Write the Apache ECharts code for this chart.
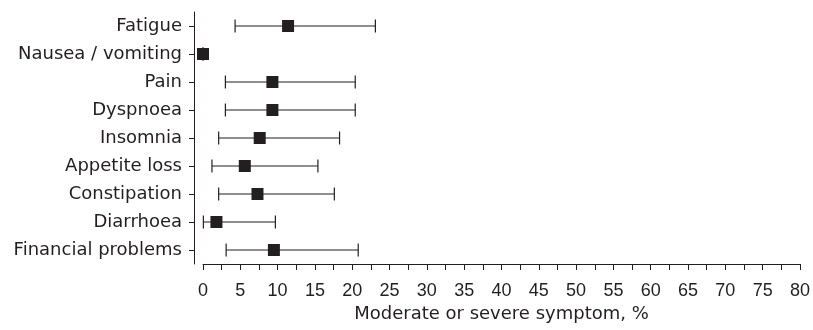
<!DOCTYPE html>
<html>
<head>
<meta charset="utf-8">
<script src="https://cdn.jsdelivr.net/npm/echarts@6/dist/echarts.min.js"></script>
<style>html,body{margin:0;padding:0;background:#fff;}#c{width:813px;height:330px;}</style>
</head>
<body>
<div id="c"></div>
<script>
var categories = ["Fatigue", "Nausea / vomiting", "Pain", "Dyspnoea", "Insomnia", "Appetite loss", "Constipation", "Diarrhoea", "Financial problems"];
var estimate = [11.4, 0.0, 9.3, 9.3, 7.6, 5.6, 7.3, 1.8, 9.5];
var lower = [4.3, 0.0, 3.0, 3.0, 2.1, 1.2, 2.1, 0.05, 3.1];
var upper = [23.1, 0.0, 20.4, 20.4, 18.3, 15.4, 17.6, 9.7, 20.8];
var xTicks = {min: 0, max: 80, interval: 5};
var xName = "Moderate or severe symptom, %";

var ink = "#231f20";
var fontText = "DejaVu Sans, Verdana, sans-serif";
var fontNum = "Liberation Sans, Arial, Helvetica, sans-serif";
var chart = echarts.init(document.getElementById('c'), null, {renderer: 'canvas'});

var barData = categories.map(function (c, i) { return [lower[i], upper[i], i]; });
var pointData = categories.map(function (c, i) { return [estimate[i], i]; });

chart.setOption({
  animation: false,
  backgroundColor: '#ffffff',
  grid: {left: 203, right: 12, top: 12, bottom: 66, containLabel: false},
  xAxis: {
    type: 'value', min: xTicks.min, max: xTicks.max, interval: xTicks.interval,
    name: xName, nameLocation: 'middle', nameGap: 38,
    nameTextStyle: {fontSize: 18, color: ink, fontFamily: fontText},
    axisLine: {show: true, onZero: false, lineStyle: {color: ink, width: 1}},
    axisTick: {show: true, length: 6, inside: false, lineStyle: {color: ink, width: 1}},
    minorTick: {show: true, splitNumber: 2, length: 6, lineStyle: {color: ink, width: 1}},
    axisLabel: {fontSize: 18, color: ink, fontFamily: fontNum, margin: 18},
    splitLine: {show: false}, minorSplitLine: {show: false}
  },
  yAxis: {
    type: 'category', data: categories, inverse: true, offset: 9,
    axisLine: {show: true, onZero: false, lineStyle: {color: ink, width: 1}},
    axisTick: {show: true, alignWithLabel: true, length: 5, lineStyle: {color: ink, width: 1}},
    axisLabel: {fontSize: 18, color: ink, fontFamily: fontText, margin: 12},
    splitLine: {show: false}
  },
  series: [
    {
      type: 'custom',
      data: barData,
      encode: {x: [0, 1], y: 2},
      renderItem: function (params, api) {
        var lo = api.coord([api.value(0), api.value(2)]);
        var hi = api.coord([api.value(1), api.value(2)]);
        var h = 13;
        var style = {stroke: ink, lineWidth: 1.2, fill: null};
        return {
          type: 'group',
          children: [
            {type: 'line', shape: {x1: lo[0], y1: lo[1], x2: hi[0], y2: hi[1]}, style: style},
            {type: 'line', shape: {x1: lo[0], y1: lo[1] - h / 2, x2: lo[0], y2: lo[1] + h / 2}, style: style},
            {type: 'line', shape: {x1: hi[0], y1: hi[1] - h / 2, x2: hi[0], y2: hi[1] + h / 2}, style: style}
          ]
        };
      },
      z: 2
    },
    {
      type: 'scatter',
      data: pointData,
      symbol: 'rect',
      symbolSize: 12,
      itemStyle: {color: ink, opacity: 1},
      z: 3
    }
  ]
});
</script>
</body>
</html>
